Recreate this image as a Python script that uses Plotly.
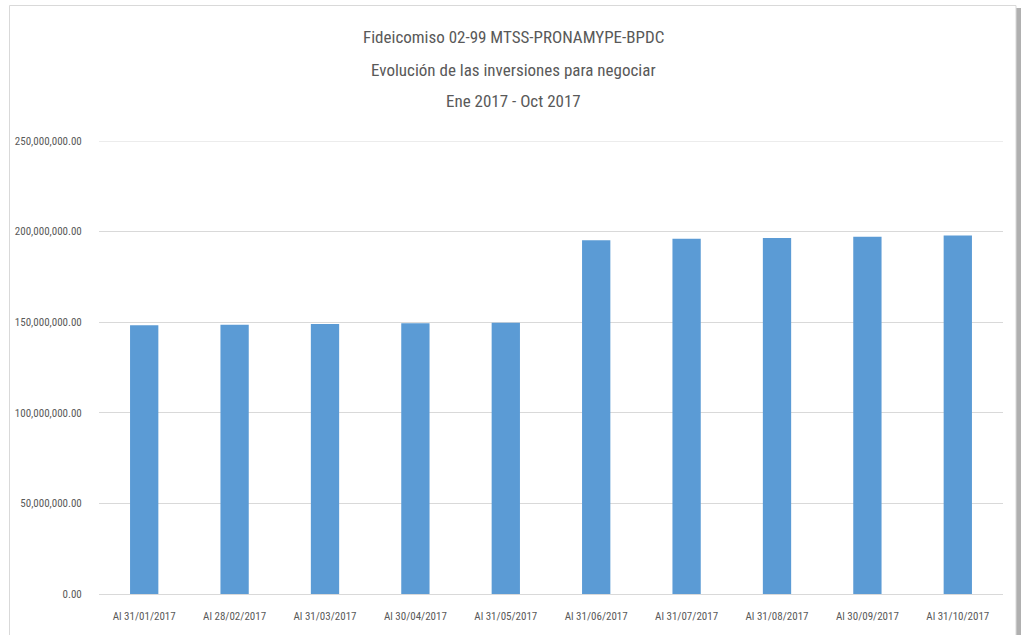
import plotly.graph_objects as go

categories = ["Al 31/01/2017", "Al 28/02/2017", "Al 31/03/2017", "Al 30/04/2017", "Al 31/05/2017",
              "Al 31/06/2017", "Al 31/07/2017", "Al 31/08/2017", "Al 30/09/2017", "Al 31/10/2017"]
values = [148300000, 148600000, 149000000, 149400000, 149700000,
          195200000, 196000000, 196500000, 197200000, 197800000]
title_lines = ["Fideicomiso 02-99 MTSS-PRONAMYPE-BPDC",
               "Evolución de las inversiones para negociar",
               "Ene 2017 - Oct 2017"]
y_ticks = [0, 50000000, 100000000, 150000000, 200000000, 250000000]

W, H = 1021, 635
FONT = "Liberation Sans Narrow, Arial Narrow, Roboto Condensed, Roboto, sans-serif"

def px(x):
    return x / W

def py(y):
    return 1 - y / H

fig = go.Figure()
fig.add_trace(go.Bar(x=categories, y=values, marker=dict(color="#5B9BD5", line=dict(width=0))))

fig.update_layout(
    width=W, height=H,
    margin=dict(l=0, r=0, t=0, b=0),
    paper_bgcolor="white", plot_bgcolor="white",
    bargap=0.687,
    showlegend=False,
    font=dict(family=FONT, color="#595959", size=11),
    xaxis=dict(domain=[px(99), px(1003)], showgrid=False, showline=False, zeroline=False,
               ticks="outside", ticklen=12, tickcolor="rgba(0,0,0,0)",
               tickfont=dict(size=11, color="#595959"), automargin=False, fixedrange=True),
    yaxis=dict(domain=[py(594), py(141)], range=[0, 250000000], tickvals=y_ticks,
               tickformat=",.2f", showgrid=True, gridcolor="#D9D9D9", gridwidth=1,
               zeroline=True, zerolinecolor="#D9D9D9", zerolinewidth=1, showline=False,
               ticks="outside", ticklen=14, tickcolor="rgba(0,0,0,0)",
               tickfont=dict(size=11, color="#595959"), automargin=False, fixedrange=True),
)

# top gridline (sits on the range edge)
fig.add_shape(type="line", xref="x domain", yref="y", x0=0, x1=1, y0=y_ticks[-1], y1=y_ticks[-1],
              line=dict(color="#D9D9D9", width=1), layer="below")

for line, yy in zip(title_lines, [37, 70, 101]):
    fig.add_annotation(text=line, xref="paper", yref="paper", x=px(513), y=py(yy),
                       showarrow=False, xanchor="center", yanchor="middle",
                       font=dict(family=FONT, size=17, color="#595959"))

# chart frame and shadow
fig.add_shape(type="rect", xref="paper", yref="paper", x0=px(1016), x1=px(1021), y0=py(640), y1=py(8),
              line=dict(width=0), fillcolor="#B0B0B0", layer="below")
fig.add_shape(type="rect", xref="paper", yref="paper", x0=px(9.5), x1=px(1016), y0=py(640), y1=py(5.5),
              line=dict(color="#D9D9D9", width=1), fillcolor="rgba(0,0,0,0)", layer="below")

fig.write_html("out.html")
